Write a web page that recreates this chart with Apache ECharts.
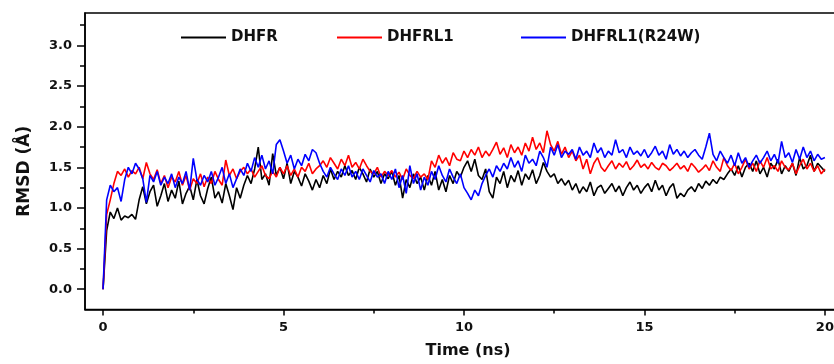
<!DOCTYPE html>
<html>
<head>
<meta charset="utf-8">
<script src="https://cdn.jsdelivr.net/npm/echarts@6/dist/echarts.min.js"></script>
<style>html,body{margin:0;padding:0;background:#fff;}#c{width:834px;height:364px;}</style>
</head>
<body>
<div id="c"></div>
<script>
// sampling interval (ns)
const dt = 0.1;
const seriesNames = ['DHFR', 'DHFRL1', 'DHFRL1(R24W)'];
const xMajorTicks = [0, 5, 10, 15, 20];
const xMinorTicks = [2.5, 7.5, 12.5, 17.5];
const yMajorTicks = [0, 0.5, 1.0, 1.5, 2.0, 2.5, 3.0];
const yMinorTicks = [0.25, 0.75, 1.25, 1.75, 2.25, 2.75, 3.25];

const dhfr = [
0.00,0.72,0.95,0.87,1.00,0.85,0.90,0.88,0.92,0.86,
1.10,1.26,1.05,1.20,1.28,1.02,1.15,1.30,1.08,1.22,
1.12,1.33,1.05,1.18,1.27,1.10,1.35,1.15,1.05,1.24,
1.38,1.12,1.20,1.06,1.30,1.15,0.98,1.25,1.12,1.28,
1.40,1.30,1.48,1.75,1.35,1.42,1.28,1.67,1.40,1.50,
1.36,1.55,1.30,1.45,1.38,1.27,1.42,1.33,1.22,1.35,
1.25,1.40,1.30,1.48,1.35,1.45,1.38,1.52,1.40,1.46,
1.35,1.50,1.42,1.32,1.48,1.38,1.45,1.30,1.42,1.36,
1.45,1.28,1.40,1.12,1.35,1.25,1.42,1.30,1.38,1.22,
1.40,1.28,1.45,1.22,1.35,1.20,1.40,1.30,1.45,1.38,
1.50,1.58,1.45,1.60,1.40,1.35,1.48,1.20,1.12,1.38,
1.30,1.45,1.25,1.40,1.32,1.46,1.28,1.42,1.35,1.47,
1.30,1.40,1.56,1.45,1.38,1.42,1.30,1.36,1.28,1.34,
1.22,1.30,1.18,1.26,1.20,1.32,1.15,1.25,1.28,1.18,
1.24,1.30,1.20,1.27,1.15,1.25,1.32,1.22,1.28,1.18,
1.25,1.30,1.20,1.34,1.22,1.28,1.15,1.25,1.30,1.12,
1.18,1.14,1.22,1.26,1.20,1.30,1.24,1.33,1.28,1.35,
1.30,1.38,1.35,1.42,1.48,1.40,1.52,1.38,1.50,1.55,
1.45,1.58,1.42,1.50,1.38,1.55,1.48,1.60,1.42,1.52,
1.45,1.55,1.40,1.62,1.48,1.52,1.65,1.45,1.55,1.50,
1.45
];
const dhfrl1 = [
0.00,0.92,1.10,1.30,1.45,1.40,1.48,1.38,1.46,1.42,
1.50,1.36,1.56,1.42,1.35,1.47,1.30,1.40,1.25,1.38,
1.32,1.45,1.28,1.40,1.22,1.36,1.30,1.42,1.26,1.38,
1.30,1.45,1.35,1.28,1.59,1.40,1.48,1.36,1.45,1.50,
1.42,1.48,1.38,1.45,1.52,1.40,1.36,1.45,1.38,1.50,
1.42,1.52,1.40,1.48,1.38,1.50,1.45,1.55,1.42,1.48,
1.52,1.58,1.50,1.62,1.55,1.48,1.60,1.52,1.65,1.50,
1.56,1.48,1.60,1.52,1.45,1.42,1.50,1.38,1.45,1.40,
1.46,1.38,1.44,1.35,1.48,1.40,1.36,1.45,1.38,1.42,
1.35,1.58,1.50,1.65,1.55,1.62,1.52,1.68,1.60,1.58,
1.70,1.62,1.72,1.65,1.75,1.62,1.70,1.64,1.72,1.81,
1.66,1.74,1.62,1.78,1.68,1.75,1.65,1.80,1.70,1.87,
1.72,1.80,1.68,1.95,1.78,1.70,1.82,1.66,1.75,1.62,
1.70,1.58,1.65,1.48,1.60,1.42,1.55,1.62,1.50,1.45,
1.52,1.58,1.48,1.55,1.50,1.57,1.47,1.52,1.59,1.50,
1.54,1.48,1.56,1.50,1.47,1.55,1.52,1.46,1.50,1.55,
1.48,1.52,1.45,1.55,1.50,1.44,1.48,1.53,1.46,1.58,
1.50,1.45,1.62,1.52,1.46,1.55,1.42,1.50,1.60,1.48,
1.55,1.45,1.58,1.50,1.62,1.48,1.52,1.45,1.58,1.50,
1.47,1.55,1.42,1.52,1.60,1.48,1.55,1.45,1.52,1.42,
1.48
];
const dhfrl1R24W = [
0.00,1.10,1.28,1.20,1.25,1.08,1.35,1.50,1.42,1.55,
1.48,1.36,1.07,1.40,1.32,1.45,1.28,1.38,1.30,1.42,
1.25,1.38,1.30,1.45,1.22,1.61,1.35,1.28,1.40,1.32,
1.45,1.28,1.38,1.50,1.30,1.42,1.25,1.36,1.48,1.40,
1.55,1.45,1.62,1.50,1.65,1.48,1.58,1.42,1.78,1.84,
1.70,1.55,1.65,1.48,1.60,1.52,1.66,1.58,1.72,1.68,
1.55,1.45,1.38,1.50,1.42,1.35,1.48,1.40,1.52,1.38,
1.45,1.35,1.48,1.40,1.32,1.46,1.38,1.42,1.30,1.45,
1.35,1.48,1.25,1.40,1.18,1.52,1.30,1.42,1.22,1.38,
1.28,1.45,1.35,1.52,1.40,1.32,1.48,1.38,1.30,1.42,
1.25,1.18,1.10,1.22,1.15,1.30,1.40,1.48,1.38,1.52,
1.45,1.55,1.48,1.62,1.50,1.58,1.45,1.65,1.55,1.60,
1.52,1.70,1.62,1.50,1.75,1.65,1.78,1.62,1.70,1.66,
1.72,1.60,1.75,1.65,1.70,1.62,1.80,1.68,1.74,1.62,
1.70,1.65,1.84,1.68,1.72,1.62,1.75,1.66,1.70,1.64,
1.72,1.62,1.68,1.76,1.65,1.70,1.60,1.78,1.66,1.72,
1.64,1.70,1.62,1.68,1.72,1.65,1.60,1.75,1.92,1.66,
1.58,1.70,1.62,1.55,1.65,1.52,1.68,1.55,1.62,1.50,
1.58,1.65,1.55,1.62,1.70,1.58,1.66,1.55,1.82,1.62,
1.68,1.56,1.72,1.60,1.75,1.62,1.70,1.58,1.66,1.60,
1.62
];
const seriesColors = ['#000000', '#ff0000', '#0000ff'];

const allValues = [dhfr, dhfrl1, dhfrl1R24W];
function pairs(vals) { return vals.map((v, i) => [+(i * dt).toFixed(2), v]); }

const FONT = 'DejaVu Sans';
const chart = echarts.init(document.getElementById('c'), null, {renderer: 'canvas'});

const legendLefts = [181, 337, 521];

chart.setOption({
  animation: false,
  backgroundColor: '#ffffff',
  grid: {left: 85, top: 13, width: 776, height: 296.5, outerBoundsMode: 'none', containLabel: false,
         show: true, borderColor: '#000', borderWidth: 1.5, backgroundColor: 'transparent'},
  legend: seriesNames.map((n, i) => ({
    data: [n], left: legendLefts[i], top: 30, padding: 0, itemWidth: 45, itemHeight: 2, icon: 'rect',
    textStyle: {fontFamily: FONT, fontWeight: 'bold', fontSize: 15, color: '#111'}
  })),
  xAxis: [
    {type: 'value', min: -0.5, max: 21, position: 'bottom',
     name: 'Time (ns)', nameLocation: 'middle', nameGap: 33,
     nameTextStyle: {fontFamily: FONT, fontWeight: 'bold', fontSize: 16, color: '#111', padding: [0, 10, 0, 0]},
     axisLine: {show: true, onZero: false, lineStyle: {color: '#000', width: 1.5}},
     axisTick: {show: true, customValues: xMajorTicks, length: 6, lineStyle: {color: '#000', width: 1.5}},
     axisLabel: {customValues: xMajorTicks, margin: 12, fontFamily: FONT, fontWeight: 'bold', fontSize: 13, color: '#111'},
     splitLine: {show: false}},
    {type: 'value', min: -0.5, max: 21, position: 'bottom',
     axisLine: {show: false, onZero: false},
     axisTick: {show: true, customValues: xMinorTicks, length: 4, lineStyle: {color: '#000', width: 1.5}},
     axisLabel: {show: false}, splitLine: {show: false}}
  ],
  yAxis: [
    {type: 'value', min: -0.25, max: 3.4, position: 'left',
     name: 'RMSD (Å)', nameLocation: 'middle', nameGap: 52,
     nameTextStyle: {fontFamily: FONT, fontWeight: 'bold', fontSize: 17, color: '#111', padding: [0, 20, 0, 0]},
     axisLine: {show: true, onZero: false, lineStyle: {color: '#000', width: 1.5}},
     axisTick: {show: true, customValues: yMajorTicks, length: 8, lineStyle: {color: '#000', width: 1.5}},
     axisLabel: {customValues: yMajorTicks, margin: 13, formatter: v => v.toFixed(1), fontFamily: FONT, fontWeight: 'bold', fontSize: 13, color: '#111'},
     splitLine: {show: false}},
    {type: 'value', min: -0.25, max: 3.4, position: 'left',
     axisLine: {show: false, onZero: false},
     axisTick: {show: true, customValues: yMinorTicks, length: 5, lineStyle: {color: '#000', width: 1.5}},
     axisLabel: {show: false}, splitLine: {show: false}}
  ],
  series: seriesNames.map((n, i) => ({
    name: n, type: 'line', xAxisIndex: 0, yAxisIndex: 0,
    data: pairs(allValues[i]), symbol: 'none', showSymbol: false,
    color: seriesColors[i],
    lineStyle: {color: seriesColors[i], width: 1.6},
    z: 3 + i
  }))
});
</script>
</body>
</html>
